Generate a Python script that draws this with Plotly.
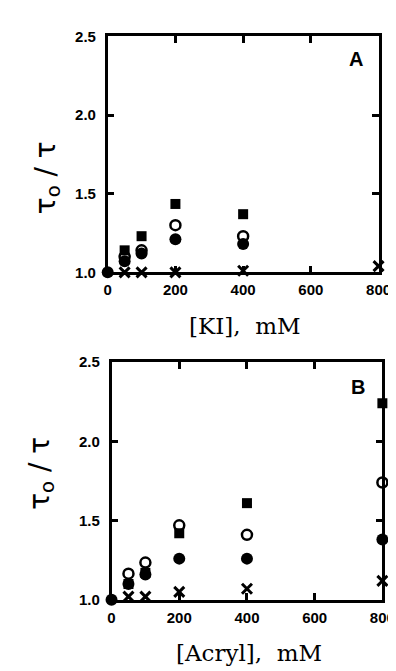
import plotly.graph_objects as go

# Panel A: KI
ki_x_sq = [50, 100, 200, 400]
ki_sq = [1.14, 1.23, 1.435, 1.37]
ki_x_oc = [50, 100, 200, 400]
ki_oc = [1.10, 1.14, 1.30, 1.23]
ki_x_fc = [0, 50, 100, 200, 400]
ki_fc = [1.0, 1.07, 1.12, 1.21, 1.18]
ki_x_cr = [50, 100, 200, 400, 800]
ki_cr = [1.0, 1.0, 1.0, 1.01, 1.04]

# Panel B: Acrylamide
ac_x_sq = [50, 100, 200, 400, 800]
ac_sq = [1.10, 1.17, 1.42, 1.61, 2.24]
ac_x_oc = [50, 100, 200, 400, 800]
ac_oc = [1.165, 1.235, 1.47, 1.41, 1.74]
ac_x_fc = [0, 50, 100, 200, 400, 800]
ac_fc = [1.0, 1.10, 1.16, 1.26, 1.26, 1.38]
ac_x_cr = [50, 100, 200, 400, 800]
ac_cr = [1.02, 1.02, 1.05, 1.07, 1.12]

x_ticks = [0, 200, 400, 600, 800]
y_ticks = [1.0, 1.5, 2.0, 2.5]
y_tick_text = ["1.0", "1.5", "2.0", "2.5"]

fig = go.Figure()

def add_series(xs, ys, sym, size, xa, ya, lw=0):
    fig.add_trace(go.Scatter(
        x=xs, y=ys, mode="markers", xaxis=xa, yaxis=ya, cliponaxis=False,
        marker=dict(symbol=sym, size=size, color="black",
                    line=dict(color="black", width=lw)),
        showlegend=False))

for xa, ya, data in [("x", "y", (ki_x_sq, ki_sq, ki_x_oc, ki_oc, ki_x_fc, ki_fc, ki_x_cr, ki_cr)),
                     ("x2", "y2", (ac_x_sq, ac_sq, ac_x_oc, ac_oc, ac_x_fc, ac_fc, ac_x_cr, ac_cr))]:
    xs_sq, sq, xs_oc, oc, xs_fc, fc, xs_cr, cr = data
    add_series(xs_sq, sq, "square", 10, xa, ya)
    add_series(xs_oc, oc, "circle-open", 10, xa, ya, lw=2.5)
    add_series(xs_fc, fc, "circle", 12, xa, ya)
    add_series(xs_cr, cr, "x-thin", 10, xa, ya, lw=3)

tickfont = dict(family="Liberation Sans", size=15, color="black", weight="bold")
common_x = dict(range=[0, 800], tickvals=x_ticks, ticks="inside", ticklen=7, tickwidth=2.5,
                showline=True, linewidth=2.5, linecolor="black", mirror="ticks",
                showgrid=False, zeroline=False, tickfont=tickfont, tickcolor="black",
                ticklabelstandoff=2)
common_y = dict(range=[1.0, 2.5], tickvals=y_ticks, ticktext=y_tick_text, ticks="inside",
                ticklen=7, tickwidth=2.5, showline=True, linewidth=2.5, linecolor="black",
                mirror="ticks", showgrid=False, zeroline=False, tickfont=tickfont,
                tickcolor="black", ticklabelstandoff=6)

W, H = 396, 671
fig.update_layout(
    width=W, height=H, margin=dict(l=0, r=0, t=0, b=0),
    paper_bgcolor="white", plot_bgcolor="white",
    xaxis=dict(domain=[100 / W, 383 / W], anchor="y", **common_x),
    yaxis=dict(domain=[1 - 262 / H, 1 - 20 / H], anchor="x", **common_y),
    xaxis2=dict(domain=[104 / W, 387 / W], anchor="y2", **common_x),
    yaxis2=dict(domain=[1 - 598 / H, 1 - 354 / H], anchor="x2", **common_y),
)

serif = dict(family="DejaVu Serif", size=23, color="black")
ylab = dict(family="DejaVu Sans", size=28, color="black")
ann = [
    dict(text="[KI],  mM", x=243 / W, y=1 - 317 / H, font=serif),
    dict(text="[Acryl],  mM", x=248 / W, y=1 - 653 / H, font=serif),
    dict(text="τ<sub>o</sub> / τ", x=37 / W, y=1 - 165 / H, font=ylab, textangle=-90),
    dict(text="τ<sub>o</sub> / τ", x=30 / W, y=1 - 468 / H, font=ylab, textangle=-90),
    dict(text="<b>A</b>", x=359 / W, y=1 - 43 / H,
         font=dict(family="Liberation Sans", size=20, color="black")),
    dict(text="<b>B</b>", x=362 / W, y=1 - 380 / H,
         font=dict(family="Liberation Sans", size=20, color="black")),
]
for a in ann:
    fig.add_annotation(xref="paper", yref="paper", showarrow=False,
                       xanchor="center", yanchor="middle", **a)

fig.write_html("out.html")
